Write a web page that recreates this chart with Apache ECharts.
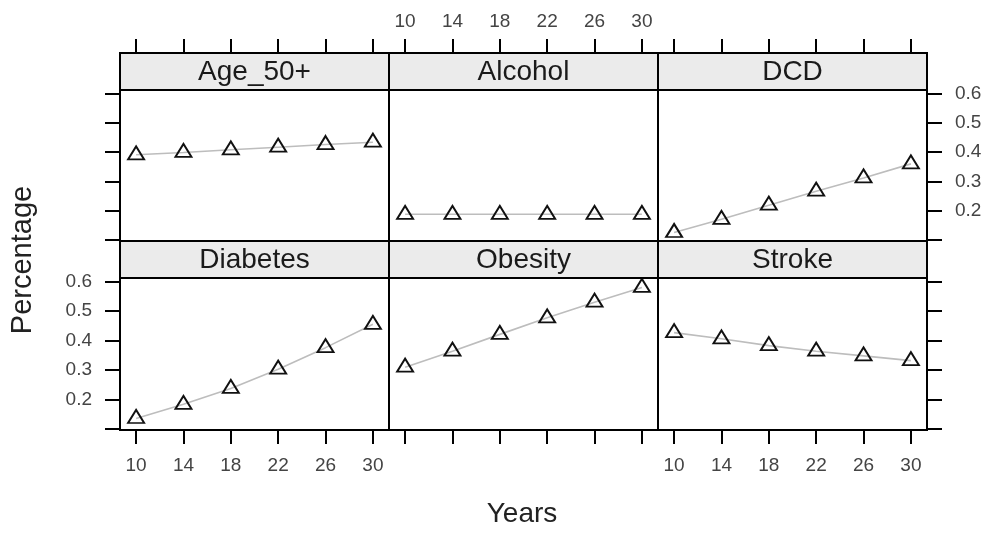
<!DOCTYPE html>
<html>
<head>
<meta charset="utf-8">
<script src="https://cdn.jsdelivr.net/npm/echarts@6/dist/echarts.min.js"></script>
<style>
  html, body { margin: 0; padding: 0; background: #fff; }
  #chart { width: 993px; height: 533px; }
</style>
</head>
<body>
<div id="chart"></div>
<script>
// Risk-factor prevalence by years, one panel per factor
const years = [10, 14, 18, 22, 26, 30];
const panelNames = ['Age_50+', 'Alcohol', 'DCD', 'Diabetes', 'Obesity', 'Stroke'];

const age50 = [0.391, 0.399, 0.408, 0.417, 0.426, 0.434];
const alcohol = [0.188, 0.188, 0.188, 0.188, 0.188, 0.188];
const dcd = [0.126, 0.171, 0.219, 0.267, 0.312, 0.360];
const diabetes = [0.136, 0.184, 0.238, 0.303, 0.376, 0.455];
const obesity = [0.310, 0.364, 0.421, 0.477, 0.530, 0.580];
const stroke = [0.427, 0.406, 0.383, 0.364, 0.348, 0.332];

const xTickValues = [10, 14, 18, 22, 26, 30];
const yTickValues = [0.1, 0.2, 0.3, 0.4, 0.5, 0.6];
const yLabelValues = [0.2, 0.3, 0.4, 0.5, 0.6];

const panelData = [age50, alcohol, dcd, diabetes, obesity, stroke];

// layout
const FONT = '"Liberation Sans", Arial, sans-serif';
const colLeft = [120, 389, 658];
const colWidth = 269;
const stripH = 37;
const rowStripTop = [53, 241];
const panelH = [151, 152];
const xMin = 8.64, xMax = 31.36;
const yMin = 0.097, yMax = 0.612;
const tickStyle = { color: '#000', width: 2 };
const labelStyle = { color: '#444', fontSize: 19, fontFamily: FONT };

const grids = [], xAxes = [], yAxes = [], series = [], graphics = [];

panelNames.forEach((name, i) => {
  const row = Math.floor(i / 3), col = i % 3;
  const left = colLeft[col];
  const stripTop = rowStripTop[row];
  const top = stripTop + stripH;

  grids.push({
    left: left, top: top, width: colWidth, height: panelH[row],
    show: true, borderColor: '#000', borderWidth: 2, backgroundColor: '#fff'
  });

  // x axis: top row on top (above the strip), bottom row at bottom
  const xShowLabel = row === 0 ? col === 1 : col !== 1;
  xAxes.push({
    type: 'value', gridIndex: i, min: xMin, max: xMax,
    position: row === 0 ? 'top' : 'bottom',
    offset: row === 0 ? stripH : 0,
    axisLine: { show: false },
    splitLine: { show: false },
    axisTick: { show: true, length: 14, lineStyle: tickStyle, customValues: xTickValues },
    axisLabel: Object.assign({ show: xShowLabel, margin: row === 0 ? 22 : 26, customValues: xTickValues }, labelStyle)
  });

  // y axis: left column on left, right column on right, middle hidden
  const yVisible = col !== 1;
  const yShowLabel = (col === 0 && row === 1) || (col === 2 && row === 0);
  yAxes.push({
    type: 'value', gridIndex: i, min: yMin, max: yMax,
    position: col === 2 ? 'right' : 'left',
    axisLine: { show: false },
    splitLine: { show: false },
    axisTick: { show: yVisible, length: 15, lineStyle: tickStyle, customValues: yTickValues },
    axisLabel: Object.assign({
      show: yShowLabel, margin: 28, customValues: yLabelValues,
      formatter: v => v.toFixed(1)
    }, labelStyle)
  });

  series.push({
    type: 'line', xAxisIndex: i, yAxisIndex: i,
    data: years.map((y, k) => [y, panelData[i][k]]),
    symbol: 'triangle', symbolSize: [16, 13], symbolOffset: [0, -2],
    showSymbol: true,
    lineStyle: { color: '#bdbdbd', width: 1.6 },
    itemStyle: { color: 'rgba(255,255,255,0)', borderColor: '#111', borderWidth: 1.9 },
    emphasis: { disabled: true },
    animation: false, z: 3
  });

  // strip with the panel name
  graphics.push({
    type: 'rect', z: 10,
    shape: { x: left, y: stripTop, width: colWidth, height: stripH },
    style: { fill: '#ebebeb', stroke: '#000', lineWidth: 2 }
  });
  graphics.push({
    type: 'text', z: 11,
    x: left + colWidth / 2, y: stripTop + stripH / 2 + 1,
    style: { text: name, fill: '#1a1a1a', font: '28px ' + FONT, align: 'center', verticalAlign: 'middle' }
  });
});

graphics.push({
  type: 'text', z: 11, x: 23, y: 260, rotation: Math.PI / 2,
  style: { text: 'Percentage', fill: '#222', font: '29px ' + FONT, align: 'center', verticalAlign: 'middle' }
});
graphics.push({
  type: 'text', z: 11, x: 522, y: 514,
  style: { text: 'Years', fill: '#222', font: '28px ' + FONT, align: 'center', verticalAlign: 'middle' }
});

const chart = echarts.init(document.getElementById('chart'), null, { renderer: 'canvas' });
chart.setOption({
  animation: false,
  backgroundColor: '#fff',
  grid: grids,
  xAxis: xAxes,
  yAxis: yAxes,
  series: series,
  graphic: graphics
});
</script>
</body>
</html>
